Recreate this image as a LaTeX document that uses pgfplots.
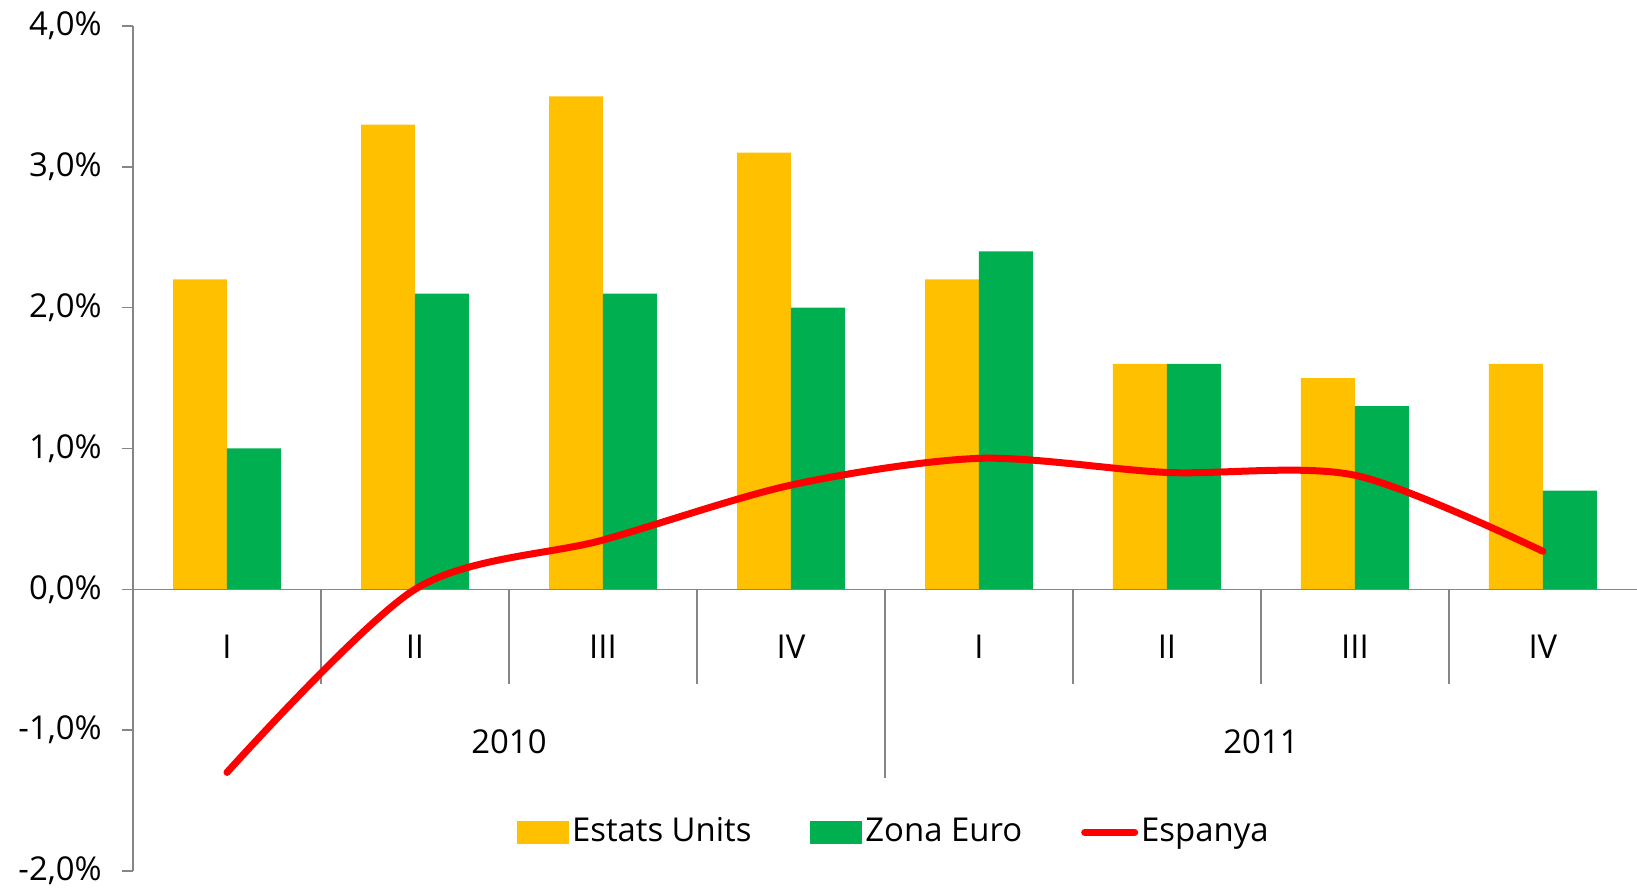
\documentclass[border=0pt]{standalone}
\usepackage{pgfplots}
\pgfplotsset{compat=1.18}
\usepackage{fontspec}
\setmainfont{Open Sans}
\definecolor{ey}{HTML}{FFC000}
\definecolor{zg}{HTML}{00B050}
\definecolor{er}{HTML}{FF0000}
\definecolor{axc}{HTML}{868686}
\begin{document}
\fontsize{33}{38}\selectfont
\begin{tikzpicture}[x=1bp,y=1bp]
\path[use as bounding box] (-133,-17) rectangle (1504,871);
\begin{axis}[
  at={(0,0)}, anchor=south west, scale only axis,
  width=1504bp, height=845bp,
  xmin=-0.5, xmax=7.5, ymin=-2, ymax=4,
  axis y line=left, axis x line=none,
  axis line style={-},
  y axis line style={-, draw=axc, line width=1.5bp},
  ytick={-2,-1,0,1,2,3,4},
  yticklabels={{-2,0\%},{-1,0\%},{0,0\%},{1,0\%},{2,0\%},{3,0\%},{4,0\%}},
  ytick style={draw=axc, line width=1.5bp},
  major tick length=11bp, tick align=outside,
  yticklabel style={font=\fontsize{33}{38}\selectfont, text=black, inner sep=0pt, xshift=-20bp},
  xtick=\empty,
  clip=false,
  legend style={at={(axis cs:1.543,-1.725)}, anchor=west, draw=none, fill=none,
    inner sep=0pt, outer sep=0pt, legend columns=-1,
    font=\fontsize{33}{38}\selectfont,
    /tikz/every even column/.append style={column sep=56bp},
    nodes={inner sep=3bp}},
]
\addplot[ybar, bar width=0.287, bar shift=-0.1435, fill=ey, draw=none,
  legend image code/.code={\fill[ey] (0bp,-11.5bp) rectangle (52bp,11.5bp);}]
  coordinates {(0,2.2)(1,3.3)(2,3.5)(3,3.1)(4,2.2)(5,1.6)(6,1.5)(7,1.6)};
\addlegendentry{Estats Units}
\addplot[ybar, bar width=0.287, bar shift=0.1435, fill=zg, draw=none,
  legend image code/.code={\fill[zg] (0bp,-11.5bp) rectangle (52bp,11.5bp);}]
  coordinates {(0,1.0)(1,2.1)(2,2.1)(3,2.0)(4,2.4)(5,1.6)(6,1.3)(7,0.7)};
\addlegendentry{Zona Euro}
\draw[axc, line width=1.5bp] (axis cs:-0.5,0) -- (axis cs:7.5,0);
\draw[axc, line width=1.5bp] (axis cs:0.5,0) -- (axis cs:0.5,-0.675);
\draw[axc, line width=1.5bp] (axis cs:1.5,0) -- (axis cs:1.5,-0.675);
\draw[axc, line width=1.5bp] (axis cs:2.5,0) -- (axis cs:2.5,-0.675);
\draw[axc, line width=1.5bp] (axis cs:3.5,0) -- (axis cs:3.5,-1.34);
\draw[axc, line width=1.5bp] (axis cs:4.5,0) -- (axis cs:4.5,-0.675);
\draw[axc, line width=1.5bp] (axis cs:5.5,0) -- (axis cs:5.5,-0.675);
\draw[axc, line width=1.5bp] (axis cs:6.5,0) -- (axis cs:6.5,-0.675);
\addplot[er, line width=7bp, smooth, line cap=round, mark=none,
  legend image code/.code={\draw[er, line width=7bp, line cap=round] (3bp,0bp) -- (53bp,0bp);}]
  coordinates {(0,-1.3)(1,0.0)(2,0.35)(3,0.74)(4,0.93)(5,0.83)(6,0.81)(7,0.27)};
\addlegendentry{Espanya}
\node at (axis cs:0,-0.41) {I};
\node at (axis cs:1,-0.41) {II};
\node at (axis cs:2,-0.41) {III};
\node at (axis cs:3,-0.41) {IV};
\node at (axis cs:4,-0.41) {I};
\node at (axis cs:5,-0.41) {II};
\node at (axis cs:6,-0.41) {III};
\node at (axis cs:7,-0.41) {IV};
\node at (axis cs:1.5,-1.08) {2010};
\node at (axis cs:5.5,-1.08) {2011};
\end{axis}
\end{tikzpicture}
\end{document}
